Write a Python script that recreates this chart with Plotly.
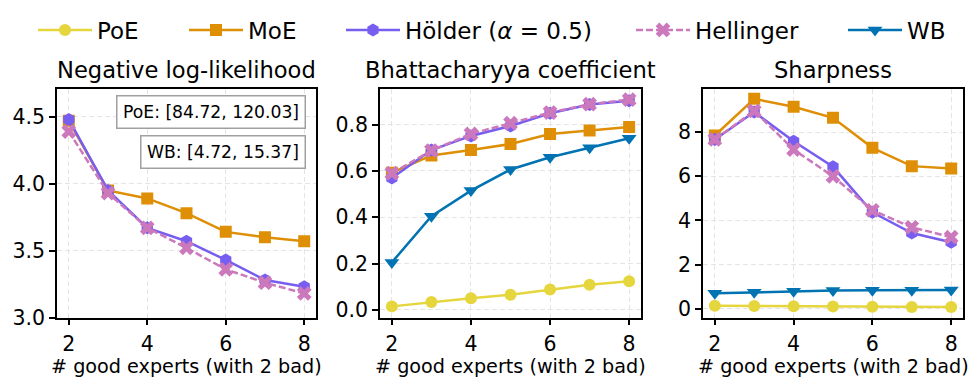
import plotly.graph_objects as go

x_experts = [2, 3, 4, 5, 6, 7, 8]

# Negative log-likelihood (PoE and WB are off-scale, reported in boxes)
nll_moe = [4.47, 3.95, 3.89, 3.78, 3.64, 3.60, 3.57]
nll_holder = [4.48, 3.95, 3.67, 3.57, 3.43, 3.28, 3.23]
nll_hellinger = [4.39, 3.93, 3.67, 3.52, 3.36, 3.26, 3.18]
nll_poe_range = "PoE: [84.72, 120.03]"
nll_wb_range = "WB: [4.72, 15.37]"

# Bhattacharyya coefficient
bc_poe = [0.015, 0.034, 0.050, 0.065, 0.088, 0.108, 0.124]
bc_moe = [0.592, 0.667, 0.690, 0.716, 0.759, 0.774, 0.790]
bc_holder = [0.569, 0.690, 0.751, 0.794, 0.849, 0.887, 0.903]
bc_hellinger = [0.590, 0.688, 0.760, 0.806, 0.852, 0.888, 0.908]
bc_wb = [0.205, 0.404, 0.515, 0.606, 0.659, 0.700, 0.741]

# Sharpness
sh_poe = [0.13, 0.12, 0.11, 0.10, 0.09, 0.08, 0.075]
sh_moe = [7.85, 9.51, 9.15, 8.65, 7.29, 6.46, 6.35]
sh_holder = [7.67, 8.91, 7.59, 6.43, 4.37, 3.43, 3.01]
sh_hellinger = [7.67, 8.96, 7.21, 6.00, 4.46, 3.69, 3.24]
sh_wb = [0.70, 0.75, 0.79, 0.82, 0.835, 0.84, 0.85]

titles = ["Negative log-likelihood", "Bhattacharyya coefficient", "Sharpness"]
x_label = "# good experts (with 2 bad)"
x_ticks = [2, 4, 6, 8]

names = ["PoE", "MoE", "Hölder (<i>α</i> = 0.5)", "Hellinger", "WB"]
colors = ["#E6D63E", "#DE8F05", "#785EF0", "#CC78BC", "#0173B2"]
symbols = ["circle", "square", "hexagon", "x", "triangle-down"]
msizes = [12, 12, 13, 13, 13]
dashes = ["solid", "solid", "solid", "7px,3px", "solid"]

FONT = "DejaVu Sans"
W, H = 977, 391

fig = go.Figure()

panels = [
    [None, nll_moe, nll_holder, nll_hellinger, None],
    [bc_poe, bc_moe, bc_holder, bc_hellinger, bc_wb],
    [sh_poe, sh_moe, sh_holder, sh_hellinger, sh_wb],
]

legend_ids = ["legend", "legend2", "legend3", "legend4", "legend5"]

for p, series in enumerate(panels):
    xa = "x" if p == 0 else f"x{p+1}"
    ya = "y" if p == 0 else f"y{p+1}"
    for i, vals in enumerate(series):
        if vals is None:
            continue
        fig.add_trace(go.Scatter(
            x=x_experts, y=vals, mode="lines+markers", name=names[i],
            xaxis=xa, yaxis=ya,
            line=dict(color=colors[i], width=2.5, dash=dashes[i]),
            marker=dict(symbol=symbols[i], size=msizes[i], color=colors[i]),
            legendgroup=names[i], showlegend=(p == 1), legend=legend_ids[i],
        ))

# axes geometry (pixels)
x_px = [(57, 316), (380, 641), (703, 963)]
y_top, y_bot = 88.7, 317.5
y_ranges = [[3.0, 4.71], [-0.033, 0.955], [-0.4, 9.97]]
y_ticks = [[3.0, 3.5, 4.0, 4.5], [0.0, 0.2, 0.4, 0.6, 0.8], [0, 2, 4, 6, 8]]
y_fmt = [".1f", ".1f", "d"]

axis_common = dict(
    showline=True, linecolor="black", linewidth=1.5, mirror=True,
    ticks="outside", ticklen=6, tickwidth=1.5, tickcolor="black",
    showgrid=True, gridcolor="#e4e4e4", gridwidth=1, griddash="5px,3px",
    zeroline=False, automargin=False,
    tickfont=dict(family=FONT, size=20.5, color="black"),
)

def py(px):
    return 1 - px / H

for p in range(3):
    xk = "xaxis" if p == 0 else f"xaxis{p+1}"
    yk = "yaxis" if p == 0 else f"yaxis{p+1}"
    x0, x1 = x_px[p]
    fig.layout[xk] = dict(
        domain=[x0 / W, x1 / W], range=[1.7, 8.3], tickvals=x_ticks,
        anchor="y" if p == 0 else f"y{p+1}", ticklabelstandoff=1,
        **axis_common,
    )
    fig.layout[yk] = dict(
        domain=[py(y_bot), py(y_top)], range=y_ranges[p], tickvals=y_ticks[p],
        tickformat=y_fmt[p], anchor="x" if p == 0 else f"x{p+1}",
        **axis_common,
    )
    # panel title
    fig.add_annotation(
        text=titles[p], xref="paper", yref="paper", x=(x0 + x1) / 2 / W, y=py(70),
        xanchor="center", yanchor="middle", showarrow=False,
        font=dict(family=FONT, size=22.6, color="black"),
    )
    # x-axis label
    fig.add_annotation(
        text=x_label, xref="paper", yref="paper", x=(x0 + x1) / 2 / W, y=py(366),
        xanchor="center", yanchor="middle", showarrow=False,
        font=dict(family=FONT, size=19.2, color="black"),
    )

# off-scale range boxes in NLL panel
for txt, top in [(nll_poe_range, 95), (nll_wb_range, 135)]:
    fig.add_annotation(
        text=txt, xref="paper", yref="paper", x=306 / W, y=py(top),
        xanchor="right", yanchor="top", showarrow=False,
        font=dict(family=FONT, size=17.2, color="black"),
        bgcolor="white", bordercolor="#a0a0a0", borderwidth=1.5, borderpad=5.5,
    )

# legends placed individually (left edge so that entry text starts where the reference's does)
leg_text_x = [97, 248, 405, 695, 907]
for i, lid in enumerate(legend_ids):
    fig.layout[lid] = dict(
        x=(leg_text_x[i] - 64) / W, xanchor="left", y=py(30), yanchor="middle",
        orientation="h", itemwidth=54, bgcolor="rgba(0,0,0,0)",
        font=dict(family=FONT, size=23, color="black"),
    )

fig.update_layout(
    width=W, height=H, margin=dict(l=0, r=0, t=0, b=0, autoexpand=False),
    paper_bgcolor="white", plot_bgcolor="white",
    font=dict(family=FONT, color="black"),
)

fig.write_html(
    "out.html",
    config={"displayModeBar": False},
    post_script="document.body.style.margin='0';document.body.style.padding='0';",
)
